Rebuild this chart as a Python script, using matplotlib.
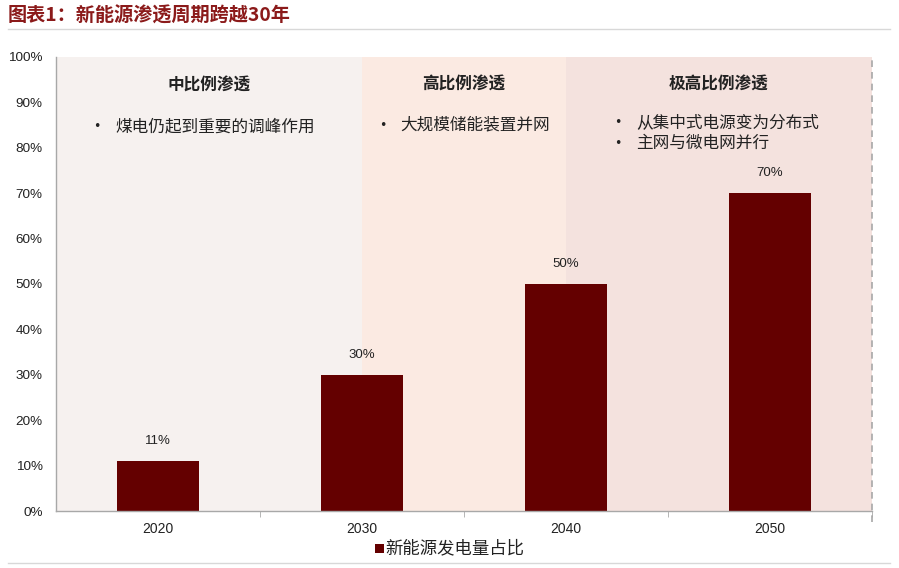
import matplotlib
matplotlib.use("Agg")
import matplotlib.pyplot as plt
from matplotlib.patches import Rectangle

plt.rcParams['font.family'] = ['Noto Sans CJK SC', 'DejaVu Sans']

categories = ["2020", "2030", "2040", "2050"]
values = [11, 30, 50, 70]
value_labels = ["11%", "30%", "50%", "70%"]
yticks = [0, 10, 20, 30, 40, 50, 60, 70, 80, 90, 100]
ytick_labels = [f"{v}%" for v in yticks]
phase_titles = ["中比例渗透", "高比例渗透", "极高比例渗透"]
phase_bounds = [(-0.5, 1.0), (1.0, 2.0), (2.0, 3.5)]
phase_colors = ["#f6f1ef", "#fbeae2", "#f4e2de"]
phase_bullets = [["煤电仍起到重要的调峰作用"], ["大规模储能装置并网"],
                 ["从集中式电源变为分布式", "主网与微电网并行"]]
series_name = "新能源发电量占比"
title = "图表1：新能源渗透周期跨越30年"

bar_color = "#640000"
num_font = ['Liberation Sans', 'Noto Sans CJK SC']

fig = plt.figure(figsize=(8.99, 5.68), dpi=100)
ax = fig.add_axes([56/899, 57/568, 816/899, 454/568])

for (x0, x1), c in zip(phase_bounds, phase_colors):
    ax.add_patch(Rectangle((x0, 0), x1 - x0, 100, facecolor=c, edgecolor='none', zorder=0))

x = list(range(len(categories)))
ax.bar(x, values, width=0.4, color=bar_color, zorder=2)
for xi, v, lab in zip(x, values, value_labels):
    ax.annotate(lab, (xi, v), xytext=(0, 10), textcoords='offset points',
                ha='center', va='bottom', fontsize=9.5, color='#222222', family=num_font)

ax.set_xlim(-0.5, 3.5)
ax.set_ylim(0, 100)
ax.set_yticks(yticks)
ax.set_yticklabels(ytick_labels, family=num_font, fontsize=9.7, color='#222222')
ax.set_xticks(x)
ax.set_xticklabels(categories, family=num_font, fontsize=10, color='#222222')
ax.tick_params(axis='y', length=0, pad=9.5)
ax.tick_params(axis='x', which='major', length=0, pad=8)
ax.set_xticks([0.5, 1.5, 2.5, 3.5], minor=True)
ax.tick_params(axis='x', which='minor', length=4, color='#aaaaaa', direction='out')

for s in ['top', 'right']:
    ax.spines[s].set_visible(False)
for s in ['left', 'bottom']:
    ax.spines[s].set_color('#a8a8a8')
    ax.spines[s].set_linewidth(1.0)

ax.plot([3.5, 3.5], [-2.5, 100], linestyle=(0, (4, 3)), color='#a8a8a8', lw=1.2,
        clip_on=False, zorder=3)

head_y = [93.6, 94.0, 94.0]
for (x0, x1), t, hy in zip(phase_bounds, phase_titles, head_y):
    ax.text((x0 + x1) / 2, hy, t, ha='center', va='center', fontsize=12,
            fontweight='bold', color='#222222')

bullet_x = [-0.30, 1.10, 2.255]
bullet_y = [[84.6], [85.0], [85.6, 81.0]]
for bx, lines, ys in zip(bullet_x, phase_bullets, bullet_y):
    for line, by in zip(lines, ys):
        ax.text(bx, by, "•", ha='center', va='center', fontsize=9, color='#222222',
                family='DejaVu Sans')
        ax.text(bx + 0.09, by, line, ha='left', va='center', fontsize=12, color='#222222')

# legend
fig.patches.append(Rectangle((375/899, 1 - 553/568), 9/899, 9/568, transform=fig.transFigure,
                             facecolor=bar_color, edgecolor='none'))
fig.text(385/899, 1 - 548/568, series_name, ha='left', va='center', fontsize=12.5, color='#222222')

# title and rules
fig.text(8/899, 1 - 16/568, title, ha='left', va='center', fontsize=13.8,
         fontweight='bold', color='#8b1a1a')
fig.add_artist(plt.Line2D([8/899, 890/899], [1 - 29/568, 1 - 29/568], color='#d8d8d8', lw=1,
                          transform=fig.transFigure))
fig.add_artist(plt.Line2D([8/899, 890/899], [1 - 563/568, 1 - 563/568], color='#d8d8d8', lw=1,
                          transform=fig.transFigure))

fig.savefig("out.png", dpi=100)
